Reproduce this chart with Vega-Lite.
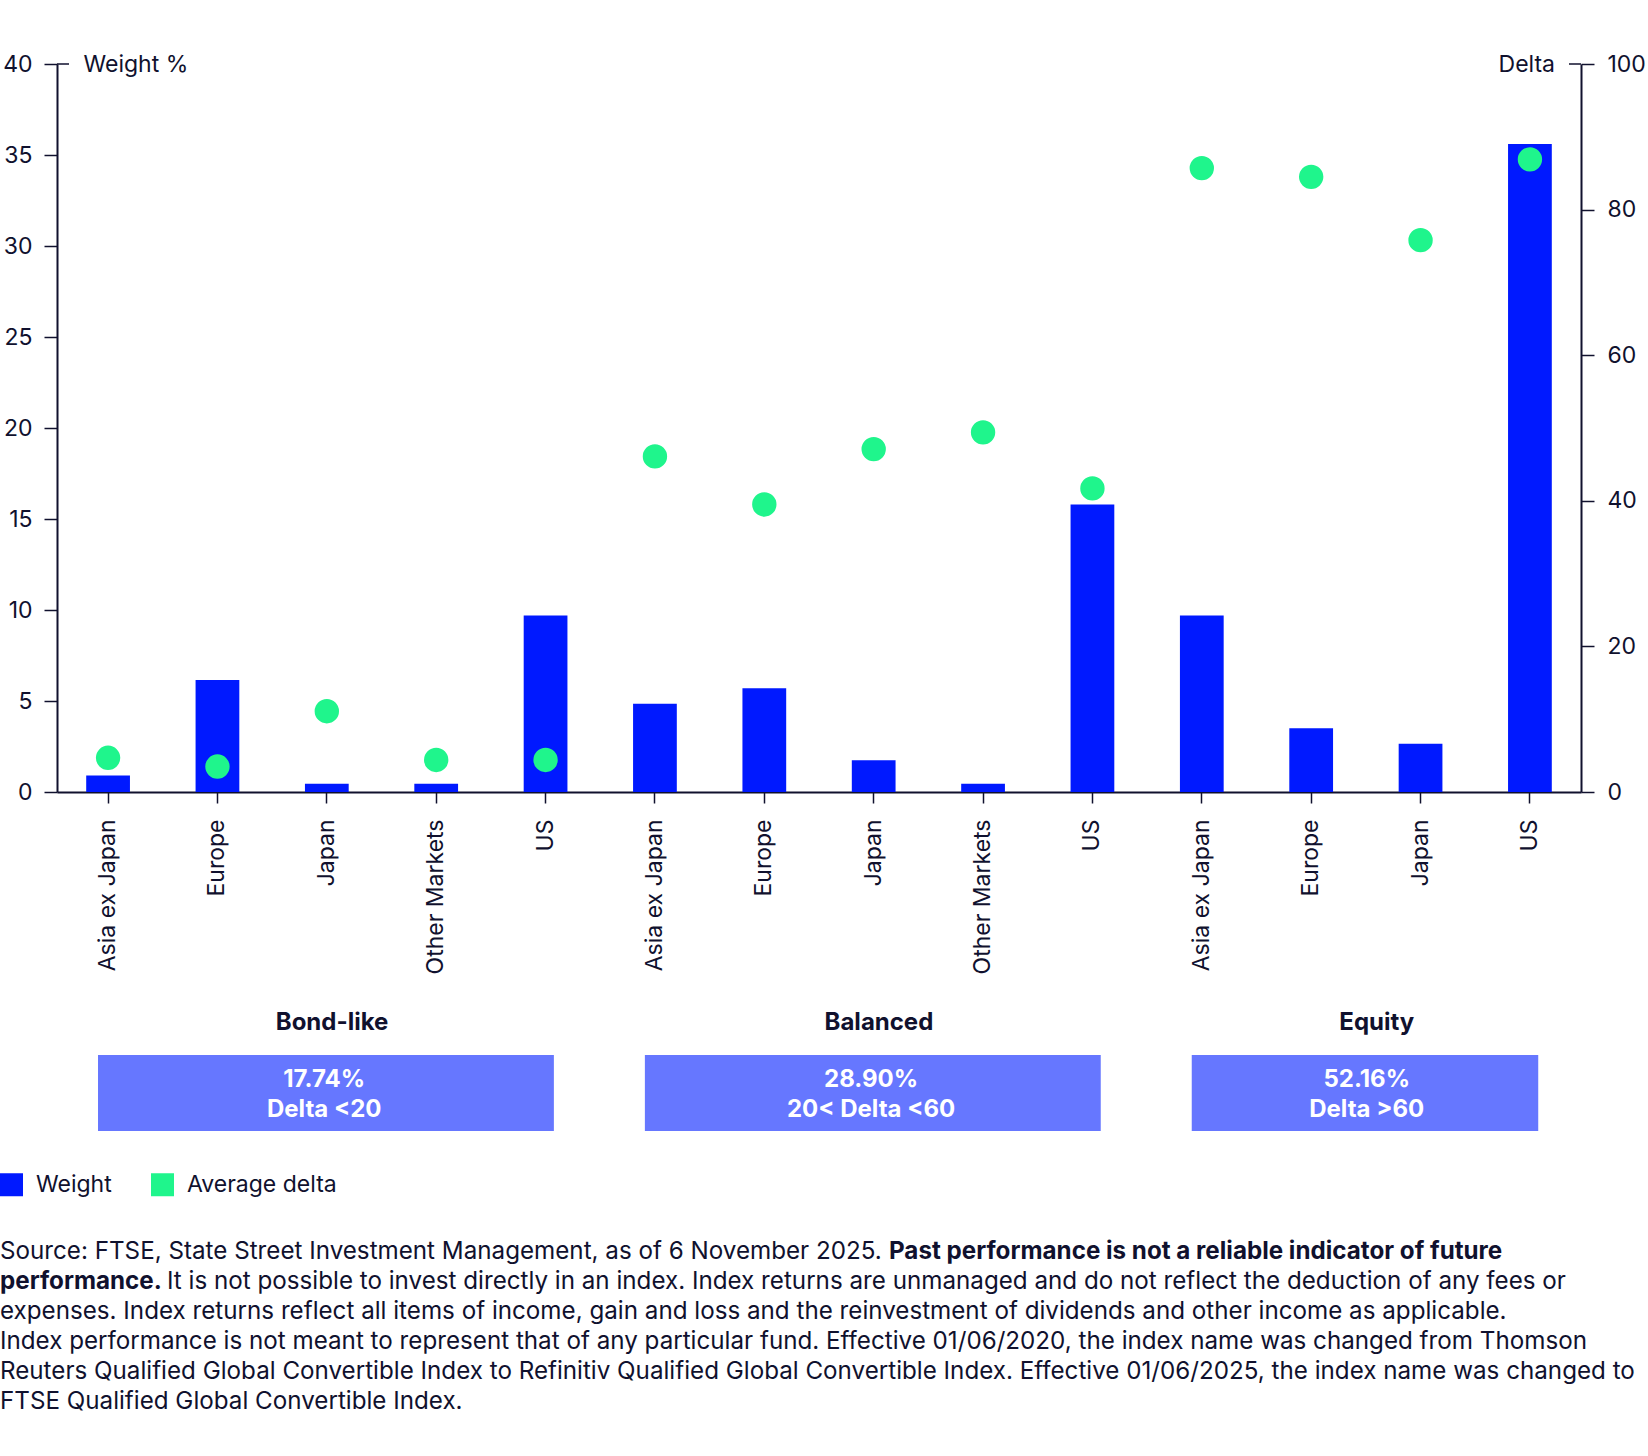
{
  "$schema": "https://vega.github.io/schema/vega-lite/v6.json",
  "width": 1524,
  "height": 728,
  "autosize": {"type": "none"},
  "padding": {"left": 57, "top": 64, "right": 67, "bottom": 664},
  "background": "#ffffff",
  "config": {
    "view": {"stroke": null},
    "font": "Inter",
    "axis": {
      "domainColor": "#10112e",
      "tickColor": "#10112e",
      "labelColor": "#10112e",
      "titleColor": "#10112e",
      "labelFont": "Inter",
      "titleFont": "Inter",
      "labelFontSize": 23,
      "titleFontSize": 23,
      "titleFontWeight": "normal",
      "grid": false,
      "domainWidth": 2,
      "tickWidth": 1.5,
      "tickSize": 13,
      "labelLimit": 400
    }
  },
  "datasets": {
    "regions": [
      {"group": "Bond-like", "region": "Asia ex Japan", "key": "Bond-like|Asia ex Japan", "weight": 0.9, "delta": 4.7},
      {"group": "Bond-like", "region": "Europe", "key": "Bond-like|Europe", "weight": 6.15, "delta": 3.5},
      {"group": "Bond-like", "region": "Japan", "key": "Bond-like|Japan", "weight": 0.45, "delta": 11.1},
      {"group": "Bond-like", "region": "Other Markets", "key": "Bond-like|Other Markets", "weight": 0.45, "delta": 4.4},
      {"group": "Bond-like", "region": "US", "key": "Bond-like|US", "weight": 9.7, "delta": 4.4},
      {"group": "Balanced", "region": "Asia ex Japan", "key": "Balanced|Asia ex Japan", "weight": 4.85, "delta": 46.1},
      {"group": "Balanced", "region": "Europe", "key": "Balanced|Europe", "weight": 5.7, "delta": 39.5},
      {"group": "Balanced", "region": "Japan", "key": "Balanced|Japan", "weight": 1.75, "delta": 47.1},
      {"group": "Balanced", "region": "Other Markets", "key": "Balanced|Other Markets", "weight": 0.45, "delta": 49.4},
      {"group": "Balanced", "region": "US", "key": "Balanced|US", "weight": 15.8, "delta": 41.7},
      {"group": "Equity", "region": "Asia ex Japan", "key": "Equity|Asia ex Japan", "weight": 9.7, "delta": 85.7},
      {"group": "Equity", "region": "Europe", "key": "Equity|Europe", "weight": 3.5, "delta": 84.5},
      {"group": "Equity", "region": "Japan", "key": "Equity|Japan", "weight": 2.65, "delta": 75.8},
      {"group": "Equity", "region": "US", "key": "Equity|US", "weight": 35.6, "delta": 86.9}
    ],
    "groups": [
      {"group": "Bond-like", "first": "Bond-like|Asia ex Japan", "last": "Bond-like|US", "label": "17.74%\nDelta <20"},
      {"group": "Balanced", "first": "Balanced|Asia ex Japan", "last": "Balanced|US", "label": "28.90%\n20< Delta <60"},
      {"group": "Equity", "first": "Equity|Asia ex Japan", "last": "Equity|US", "label": "52.16%\nDelta >60"}
    ]
  },
  "data": {"name": "regions"},
  "layer": [
    {
      "mark": {"type": "bar"},
      "encoding": {
        "x": {
          "field": "key", "type": "nominal", "sort": null,
          "scale": {"paddingInner": 0.6, "paddingOuter": 0.267},
          "axis": {"title": null, "labelAngle": -90, "labelExpr": "split(datum.label, '|')[1]", "tickSize": 11, "labelPadding": 16}
        },
        "y": {
          "field": "weight", "type": "quantitative",
          "scale": {"domain": [0, 40], "nice": false},
          "axis": {"orient": "left", "values": [0, 5, 10, 15, 20, 25, 30, 35, 40], "title": "Weight %", "titleAngle": 0, "titleX": 26, "titleY": 0, "titleAlign": "left", "titleBaseline": "middle", "labelPadding": 12}
        },
        "color": {
          "datum": "Weight", "type": "nominal",
          "scale": {"domain": ["Weight", "Average delta"], "range": ["#0019FF", "#1FF58C"]},
          "legend": {
            "orient": "none", "legendX": -57, "legendY": 1109, "direction": "horizontal", "title": null,
            "symbolType": "square", "symbolSize": 529, "symbolStrokeWidth": 0, "symbolOpacity": 1,
            "labelFontSize": 23, "labelFont": "Inter", "labelColor": "#10112e", "labelOffset": 13, "columnPadding": 39, "padding": 0
          }
        }
      }
    },
    {
      "mark": {"type": "circle", "size": 594, "opacity": 1},
      "encoding": {
        "x": {"field": "key", "type": "nominal", "sort": null},
        "y": {
          "field": "delta", "type": "quantitative",
          "scale": {"domain": [0, 100], "nice": false},
          "axis": {"orient": "right", "values": [0, 20, 40, 60, 80, 100], "title": "Delta", "titleAngle": 0, "titleX": -26.5, "titleY": 0, "titleAlign": "right", "titleBaseline": "middle", "labelPadding": 13}
        },
        "color": {"datum": "Average delta", "type": "nominal"}
      }
    },
    {
      "data": {"values": [{}]},
      "mark": {"type": "rule", "color": "#10112e", "strokeWidth": 1.5},
      "encoding": {"x": {"value": 0}, "x2": {"value": 12}, "y": {"value": 0}}
    },
    {
      "data": {"values": [{}]},
      "mark": {"type": "rule", "color": "#10112e", "strokeWidth": 1.5},
      "encoding": {"x": {"value": 1512}, "x2": {"value": 1524}, "y": {"value": 0}}
    },
    {
      "data": {"name": "groups"},
      "mark": {"type": "rect", "color": "#6677FF"},
      "encoding": {
        "x": {"field": "first", "type": "nominal", "sort": null, "bandPosition": 0.27},
        "x2": {"field": "last", "bandPosition": 0.69},
        "y": {"value": 991},
        "y2": {"value": 1067}
      }
    },
    {
      "data": {"name": "groups"},
      "transform": [{"filter": "datum.group !== 'Equity'"}],
      "mark": {"type": "text", "font": "Inter", "fontSize": 24, "fontWeight": "bold", "color": "#10112e", "align": "center", "baseline": "alphabetic"},
      "encoding": {
        "x": {"field": "first", "type": "nominal", "sort": null, "bandPosition": 5.62},
        "y": {"value": 966},
        "text": {"field": "group"}
      }
    },
    {
      "data": {"name": "groups"},
      "transform": [{"filter": "datum.group === 'Equity'"}],
      "mark": {"type": "text", "font": "Inter", "fontSize": 24, "fontWeight": "bold", "color": "#10112e", "align": "center", "baseline": "alphabetic"},
      "encoding": {
        "x": {"field": "first", "type": "nominal", "sort": null, "bandPosition": 4.5},
        "y": {"value": 966},
        "text": {"field": "group"}
      }
    },
    {
      "data": {"name": "groups"},
      "transform": [{"filter": "datum.group !== 'Equity'"}],
      "mark": {"type": "text", "font": "Inter", "fontSize": 24, "fontWeight": "bold", "color": "#ffffff", "align": "center", "baseline": "alphabetic", "lineBreak": "\n", "lineHeight": 30},
      "encoding": {
        "x": {"field": "first", "type": "nominal", "sort": null, "bandPosition": 5.44},
        "y": {"value": 1022.7},
        "text": {"field": "label"}
      }
    },
    {
      "data": {"name": "groups"},
      "transform": [{"filter": "datum.group === 'Equity'"}],
      "mark": {"type": "text", "font": "Inter", "fontSize": 24, "fontWeight": "bold", "color": "#ffffff", "align": "center", "baseline": "alphabetic", "lineBreak": "\n", "lineHeight": 30},
      "encoding": {
        "x": {"field": "first", "type": "nominal", "sort": null, "bandPosition": 4.27},
        "y": {"value": 1022.7},
        "text": {"field": "label"}
      }
    },
    {
      "data": {"values": [{}]},
      "mark": {"type": "text", "font": "Inter", "fontSize": 24.2, "color": "#10112e", "align": "left", "baseline": "alphabetic", "text": "Source: FTSE, State Street Investment Management, as of 6 November 2025."},
      "encoding": {"x": {"value": -57}, "y": {"value": 1194.5}}
    },
    {
      "data": {"values": [{}]},
      "mark": {"type": "text", "font": "Inter", "fontSize": 24.2, "fontWeight": "bold", "color": "#10112e", "align": "left", "baseline": "alphabetic", "text": "Past performance is not a reliable indicator of future"},
      "encoding": {"x": {"value": 832}, "y": {"value": 1194.5}}
    },
    {
      "data": {"values": [{}]},
      "mark": {"type": "text", "font": "Inter", "fontSize": 24.2, "fontWeight": "bold", "color": "#10112e", "align": "left", "baseline": "alphabetic", "text": "performance."},
      "encoding": {"x": {"value": -57}, "y": {"value": 1224.5}}
    },
    {
      "data": {"values": [{}]},
      "mark": {"type": "text", "font": "Inter", "fontSize": 24.2, "color": "#10112e", "align": "left", "baseline": "alphabetic", "text": "It is not possible to invest directly in an index. Index returns are unmanaged and do not reflect the deduction of any fees or"},
      "encoding": {"x": {"value": 110}, "y": {"value": 1224.5}}
    },
    {
      "data": {"values": [{}]},
      "mark": {"type": "text", "font": "Inter", "fontSize": 24.2, "color": "#10112e", "align": "left", "baseline": "alphabetic", "lineHeight": 30,
        "text": [
          "expenses. Index returns reflect all items of income, gain and loss and the reinvestment of dividends and other income as applicable.",
          "Index performance is not meant to represent that of any particular fund. Effective 01/06/2020, the index name was changed from Thomson",
          "Reuters Qualified Global Convertible Index to Refinitiv Qualified Global Convertible Index. Effective 01/06/2025, the index name was changed to",
          "FTSE Qualified Global Convertible Index."
        ]},
      "encoding": {"x": {"value": -57}, "y": {"value": 1254.5}}
    }
  ],
  "resolve": {"scale": {"y": "independent"}}
}
